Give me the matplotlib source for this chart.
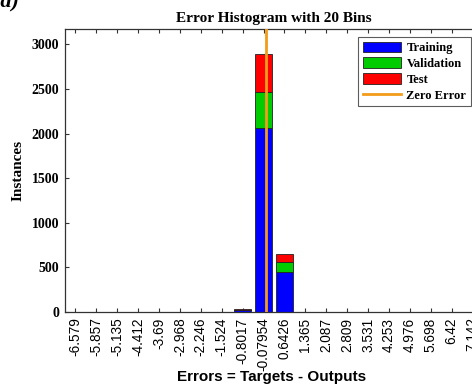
import matplotlib
matplotlib.use("Agg")
import matplotlib.pyplot as plt
import numpy as np

# ---- data ----
tick_labels = ['-6.579', '-5.857', '-5.135', '-4.412', '-3.69', '-2.968', '-2.246',
               '-1.524', '-0.8017', '-0.07954', '0.6426', '1.365', '2.087', '2.809',
               '3.531', '4.253', '4.976', '5.698', '6.42', '7.142']
training   = [0, 0, 0, 0, 0, 0, 0, 0, 18, 2068, 448, 0, 0, 0, 0, 0, 0, 0, 0, 0]
validation = [0, 0, 0, 0, 0, 0, 0, 0, 9, 399, 112, 0, 0, 0, 0, 0, 0, 0, 0, 0]
test       = [0, 0, 0, 0, 0, 0, 0, 0, 5, 430, 95, 0, 0, 0, 0, 0, 0, 0, 0, 0]
series_names = ['Training', 'Validation', 'Test']
zero_error = 0.0

centers = np.array([float(t) for t in tick_labels])
binw = (centers[-1] - centers[0]) / (len(centers) - 1)

W, H = 472, 385
fig = plt.figure(figsize=(W / 100, H / 100), dpi=100)
ax_w = 483 - 65
ax_h = 312 - 29.3
ax = fig.add_axes([65 / W, 1 - 312 / H, ax_w / W, ax_h / H])

colors = ['#0000ff', '#00cc00', '#ff0000']
bottom = np.zeros(len(centers))
handles = []
for name, vals, c in zip(series_names, [training, validation, test], colors):
    v = np.array(vals, dtype=float)
    b = ax.bar(centers, v, width=0.8 * binw, bottom=bottom, color=c,
               edgecolor='#222222', linewidth=0.6, label=name, zorder=2)
    handles.append(b)
    bottom += v
ln = ax.axvline(zero_error, color='#f39c1a', linewidth=2.0, label='Zero Error', zorder=3)
handles.append(ln)

ax.set_xlim(centers[0] - binw / 2, centers[-1] + binw / 2)
ax.set_ylim(0, 3170)
ax.set_xticks(centers)
ax.set_xticklabels(tick_labels, rotation=90, family='Liberation Sans', fontsize=9.8)
ax.set_yticks([0, 500, 1000, 1500, 2000, 2500, 3000])
ax.set_yticklabels(['0', '500', '1000', '1500', '2000', '2500', '3000'],
                   family='Liberation Serif', fontweight='bold', fontsize=10)
ax.tick_params(direction='in', length=3, width=0.8, top=True, right=True,
               color='#333333', pad=4)
for s in ax.spines.values():
    s.set_linewidth(0.9)
    s.set_color('#333333')

ax.set_title('Error Histogram with 20 Bins', family='Liberation Serif',
             fontweight='bold', fontsize=11, pad=5)
ax.set_ylabel('Instances', family='Liberation Serif', fontweight='bold', fontsize=11)
ax.yaxis.set_label_coords((25 - 65) / ax_w, 0.5)
ax.set_xlabel('Errors = Targets - Outputs', family='Liberation Sans',
              fontweight='bold', fontsize=11)
ax.xaxis.label.set_va('baseline')
ax.xaxis.set_label_coords((272 - 65) / ax_w, (312 - 381) / ax_h)

leg = ax.legend(handles=handles, loc='upper right',
                bbox_to_anchor=(470.7 / W, 1 - 37.3 / H), bbox_transform=fig.transFigure,
                borderaxespad=0, frameon=True, fancybox=False, edgecolor='#333333',
                prop={'family': 'Liberation Serif', 'weight': 'bold', 'size': 9},
                handlelength=3.1, handleheight=0.95, labelspacing=0.25,
                handletextpad=0.4, borderpad=0.35)
leg.get_frame().set_linewidth(0.8)

fig.text(-0.012, 1 - 7 / H, '(a)', family='Liberation Serif', fontweight='bold',
         style='italic', fontsize=16, va='baseline', ha='left')

fig.savefig('out.png', dpi=100)
